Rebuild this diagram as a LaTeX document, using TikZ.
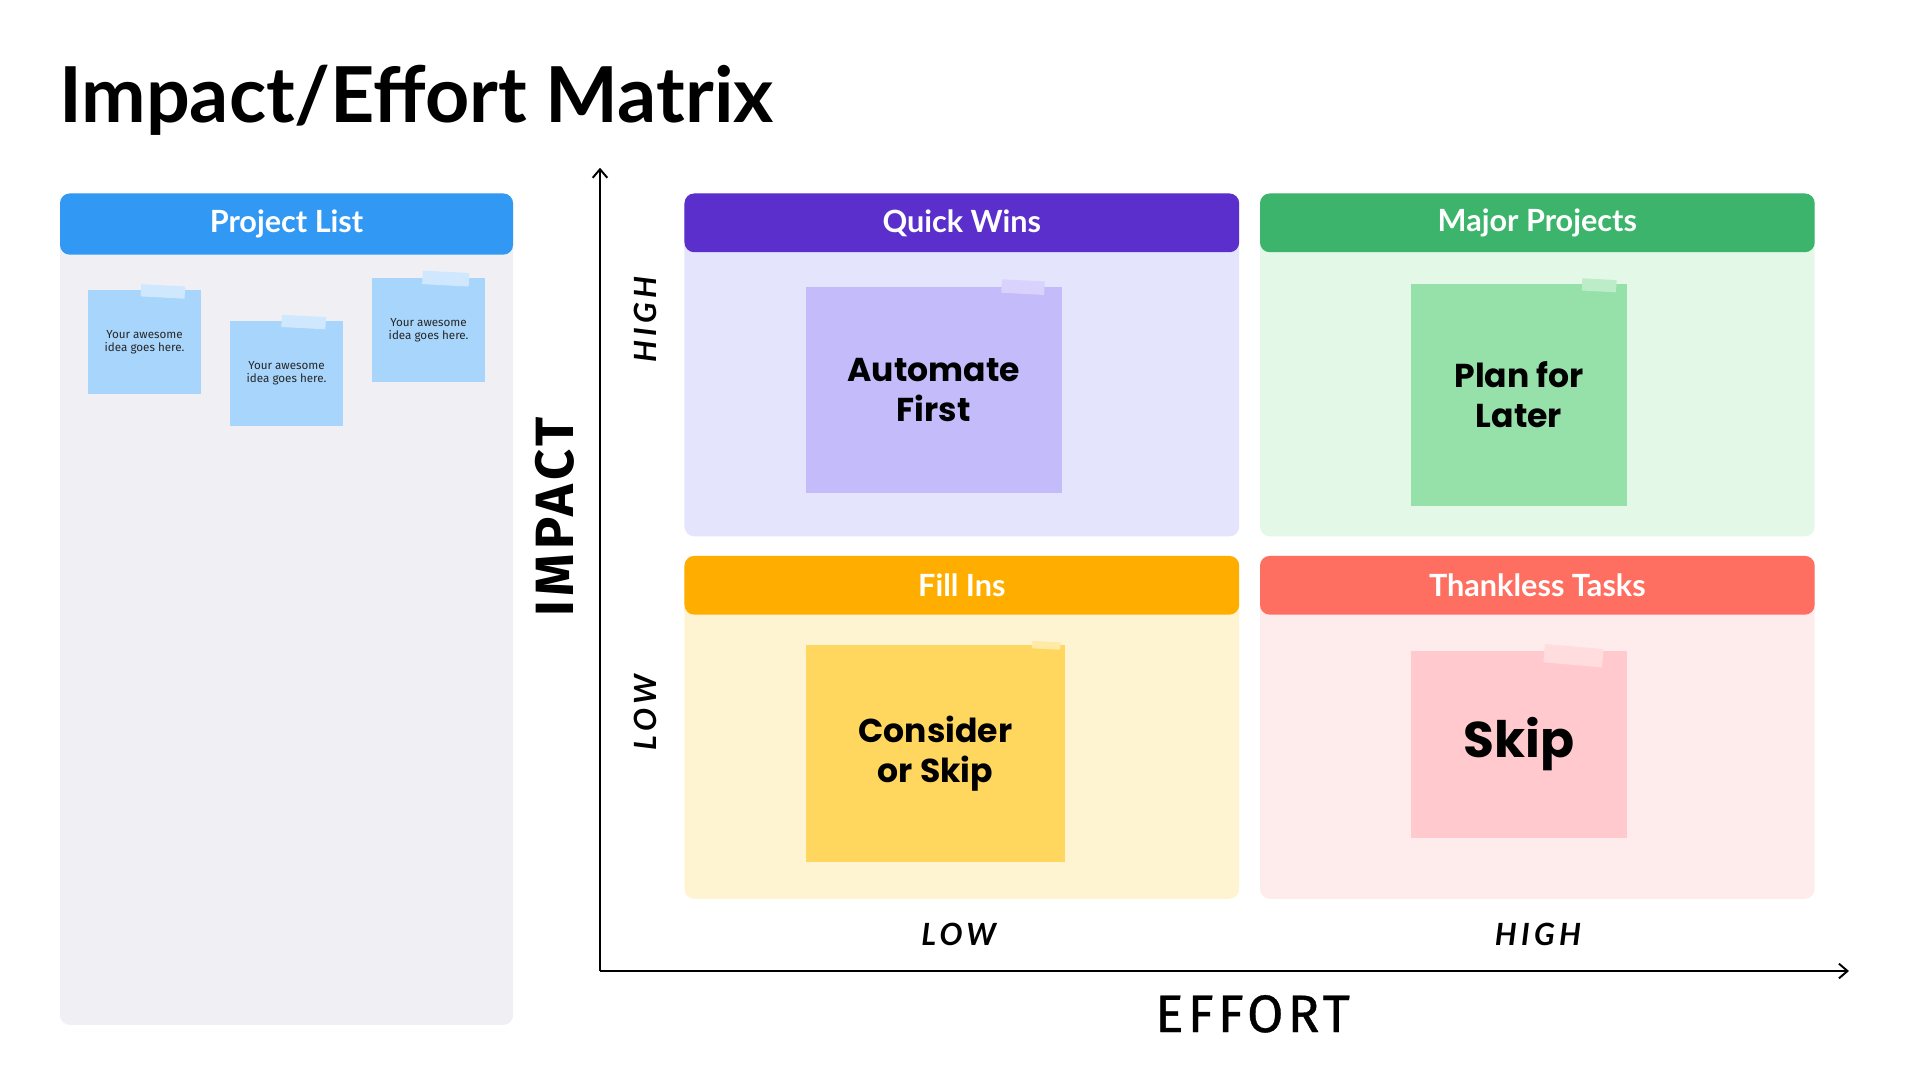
\documentclass[tikz,border=0pt]{standalone}
\usepackage{fontspec}
\setmainfont{Lato}
\newfontfamily\headfont{Lato}
\newfontfamily\stickfont{Poppins}
\newfontfamily\notefont{Fira Sans}
\newfontfamily\axisfont[LetterSpace=8]{Fira Sans}
\newfontfamily\effortfont[LetterSpace=8, FakeBold=0.7]{Fira Sans}
\newfontfamily\lblfont[LetterSpace=14]{Lato}
\usetikzlibrary{arrows.meta}
\definecolor{projblue}{HTML}{3199F4}
\definecolor{projbody}{HTML}{EFEFF4}
\definecolor{stblue}{HTML}{A8D5FB}
\definecolor{tpblue}{HTML}{CFE8FD}
\definecolor{qwhead}{HTML}{5A2FCB}
\definecolor{qwbody}{HTML}{E4E4FC}
\definecolor{qwnote}{HTML}{C4BCFA}
\definecolor{qwtape}{HTML}{D8D2FC}
\definecolor{mphead}{HTML}{3CB46B}
\definecolor{mpbody}{HTML}{E3F8E7}
\definecolor{mpnote}{HTML}{95E1A9}
\definecolor{mptape}{HTML}{BDEDC8}
\definecolor{fihead}{HTML}{FFAE00}
\definecolor{fibody}{HTML}{FFF4D2}
\definecolor{finote}{HTML}{FFD75F}
\definecolor{fitape}{HTML}{FFE9A6}
\definecolor{tthead}{HTML}{FF6F61}
\definecolor{ttbody}{HTML}{FEECEC}
\definecolor{ttnote}{HTML}{FFC9CD}
\definecolor{tttape}{HTML}{FFDCDE}
\tikzset{
  panelbody/.style={rounded corners=8pt},
  panelhead/.style={rounded corners=8pt},
  headtext/.style={text=white, font=\headfont\fontsize{25}{28}\selectfont\bfseries, inner sep=0pt},
  smallnote/.style={fill=stblue, minimum width=92pt, minimum height=85pt, inner sep=0pt, align=center,
     font=\notefont\fontsize{9.5}{10.5}\selectfont, text=black!85},
  bignote/.style={minimum width=#1, inner sep=0pt, align=center,
     font=\stickfont\fontsize{27}{33}\selectfont\bfseries},
  axislbl/.style={font=\lblfont\bfseries\itshape\fontsize{25}{28}\selectfont, inner sep=0pt},
  axisarrow/.style={line width=2pt, -{Straight Barb[length=7pt,width=12pt,line width=1.6pt]}},
}
\begin{document}
\begin{tikzpicture}[x=1pt,y=-1pt]
\useasboundingbox (0,0) rectangle (1568,882);
\fill[white] (0,0) rectangle (1568,882);

% title
\node[anchor=base west, inner sep=0pt, font=\fontsize{63}{70}\selectfont\bfseries] (title) at (48,100) {Impact/Effort Matrix};

% project list
\fill[projbody, panelbody] (49,158) rectangle (419,837);
\fill[projblue, panelhead] (49,158) rectangle (419,208);
\node[headtext] (plh) at (234,183) {Project List};
\node[smallnote] (p1) at (118,279.5) {Your awesome\\idea goes here.};
\node[smallnote] (p2) at (234,305) {Your awesome\\idea goes here.};
\node[smallnote] (p3) at (350,269.5) {Your awesome\\idea goes here.};
\fill[tpblue, rotate around={-3:(133,238)}] (115,233) rectangle (151,243);
\fill[tpblue, rotate around={-3:(248,263)}] (230,258) rectangle (266,268);
\fill[tpblue, rotate around={-3:(364,228)}] (345,222) rectangle (383,233);

% quadrants
\fill[qwbody, panelbody] (559,158) rectangle (1012,438);
\fill[qwhead, panelhead] (559,158) rectangle (1012,206);
\node[headtext] (qwh) at (785.5,182) {Quick Wins};

\fill[mpbody, panelbody] (1029,158) rectangle (1482,438);
\fill[mphead, panelhead] (1029,158) rectangle (1482,206);
\node[headtext] (mph) at (1255.5,182) {Major Projects};

\fill[fibody, panelbody] (559,454) rectangle (1012,734);
\fill[fihead, panelhead] (559,454) rectangle (1012,502);
\node[headtext] (fih) at (785.5,478) {Fill Ins};

\fill[ttbody, panelbody] (1029,454) rectangle (1482,734);
\fill[tthead, panelhead] (1029,454) rectangle (1482,502);
\node[headtext] (tth) at (1255.5,478) {Thankless Tasks};

% big sticky notes
\node[bignote=209pt, fill=qwnote, minimum height=169pt] (n1) at (762.5,318.5) {Automate\\First};
\fill[qwtape, rotate around={-3:(836,234)}] (818,229) rectangle (853,240);

\node[bignote=177pt, fill=mpnote, minimum height=181pt] (n2) at (1240.5,322.5) {Plan for\\Later};
\fill[mptape, rotate around={-3:(1306,233)}] (1292,228) rectangle (1320,238);

\node[bignote=212pt, fill=finote, minimum height=177pt] (n3) at (764,615.5) {Consider\\or Skip};
\fill[fitape, rotate around={-3:(854,527)}] (843,524) rectangle (866,530);

\node[bignote=177pt, fill=ttnote, minimum height=152pt, font=\stickfont\fontsize{41}{46}\selectfont\bfseries] (n4) at (1240.5,608) {Skip};
\fill[tttape, rotate around={-5:(1285,535)}] (1261,528) rectangle (1309,543);

% axes
\coordinate (origin) at (490,793);
\coordinate (ytop) at (490,137);
\coordinate (xend) at (1510,793);
\draw[axisarrow] (origin) -- (ytop);
\draw[axisarrow] (origin) -- (xend);

\node[font=\axisfont\fontsize{44}{48}\selectfont\bfseries, rotate=90, inner sep=0pt] (impact) at (453,422) {IMPACT};
\node[axislbl, rotate=90] (yhigh) at (527,261) {HIGH};
\node[axislbl, rotate=90] (ylow) at (527,582) {LOW};
\node[axislbl] (xlow) at (783,763) {LOW};
\node[axislbl] (xhigh) at (1256,763) {HIGH};
\node[font=\effortfont\fontsize{43}{48}\selectfont, inner sep=0pt] (effort) at (1023,828) {EFFORT};
\end{tikzpicture}
\end{document}
